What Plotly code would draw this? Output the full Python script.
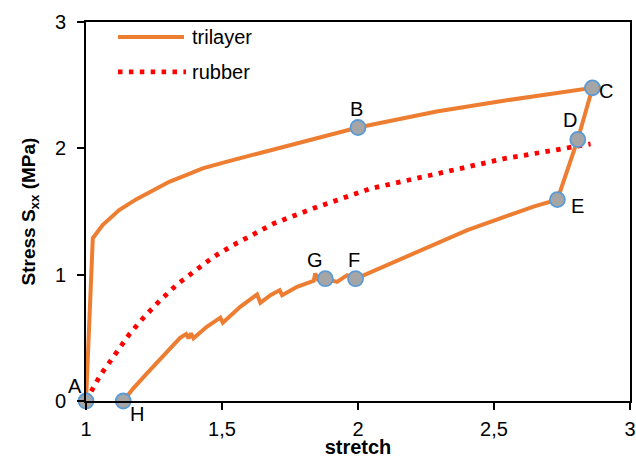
import plotly.graph_objects as go

# trilayer loading/unloading path A-B-C-D-E-F-G-H
tri_x = [1.000, 1.025, 1.061, 1.122, 1.184, 1.245, 1.306, 1.368, 1.429, 1.515, 1.592, 1.715, 1.837,
         2.000, 2.289, 2.530, 2.862,
         2.808, 2.733, 2.648, 2.402, 2.218, 2.095, 1.991, 1.960, 1.923, 1.880, 1.852, 1.843, 1.837,
         1.776, 1.721, 1.712, 1.678, 1.641, 1.629, 1.567, 1.503, 1.494, 1.444, 1.395, 1.386, 1.377,
         1.368, 1.346, 1.285, 1.224, 1.174, 1.137]
tri_y = [0.000, 1.288, 1.393, 1.511, 1.596, 1.669, 1.735, 1.788, 1.841, 1.893, 1.937, 2.010, 2.080,
         2.165, 2.291, 2.375, 2.479,
         2.070, 1.594, 1.541, 1.352, 1.180, 1.062, 0.968, 0.996, 0.943, 0.968, 0.962, 1.009, 0.951,
         0.904, 0.838, 0.877, 0.838, 0.777, 0.843, 0.746, 0.619, 0.660, 0.587, 0.496, 0.535, 0.496,
         0.530, 0.500, 0.364, 0.219, 0.100, 0.000]

# rubber curve
rub_x = [1.000, 1.017, 1.039, 1.062, 1.109, 1.160, 1.214, 1.273, 1.336, 1.402, 1.469, 1.543, 1.616,
         1.690, 1.850, 2.046, 2.292, 2.537, 2.734, 2.855]
rub_y = [0.000, 0.074, 0.153, 0.232, 0.382, 0.530, 0.666, 0.798, 0.925, 1.036, 1.141, 1.236, 1.323,
         1.405, 1.536, 1.681, 1.800, 1.918, 1.990, 2.035]

# labelled points
pt_names = ["A", "B", "C", "D", "E", "F", "G", "H"]
pt_x = [1.000, 2.000, 2.862, 2.808, 2.733, 1.991, 1.880, 1.137]
pt_y = [0.000, 2.165, 2.479, 2.070, 1.594, 0.968, 0.968, 0.000]
# label offsets (pixels)
pt_dx = [-11, -2, 14, -8, 20, -2, -10, 14]
pt_dy = [15, 18, -3, 19, -6, 19, 19, -13]

x_ticks = [1, 1.5, 2, 2.5, 3]
x_tick_text = ["1", "1,5", "2", "2,5", "3"]
y_ticks = [0, 1, 2, 3]
y_tick_text = ["0", "1", "2", "3"]

ORANGE = "#ED7D31"
RED = "#FF0000"
FONT = "Arial, 'Liberation Sans', sans-serif"

fig = go.Figure()
fig.add_trace(go.Scatter(x=rub_x, y=rub_y, mode="lines", name="rubber",
                         line=dict(color=RED, width=4.8, dash="4.5px,6.4px"), showlegend=False))
fig.add_trace(go.Scatter(x=tri_x, y=tri_y, mode="lines", name="trilayer",
                         line=dict(color=ORANGE, width=4), showlegend=False))
fig.add_trace(go.Scatter(x=pt_x, y=pt_y, mode="markers", showlegend=False, cliponaxis=False,
                         marker=dict(size=15, color="#A5A5A5", line=dict(color="#5B9BD5", width=1.8))))

for n, x, y, dx, dy in zip(pt_names, pt_x, pt_y, pt_dx, pt_dy):
    fig.add_annotation(x=x, y=y, text=n, showarrow=False, xshift=dx, yshift=dy,
                       font=dict(family=FONT, size=20, color="black"))

W, H = 636, 458
L, R, T, B = 86, 630, 22, 401.5
def px(v):
    return (v - L) / (R - L)
def py(v):
    return (B - v) / (B - T)

# legend drawn as decoration
fig.add_shape(type="line", xref="paper", yref="paper", x0=px(118), x1=px(184), y0=py(37), y1=py(37),
              line=dict(color=ORANGE, width=4))
fig.add_shape(type="line", xref="paper", yref="paper", x0=px(118), x1=px(186), y0=py(72), y1=py(72),
              line=dict(color=RED, width=4.8, dash="4.5px,6.4px"))
fig.add_annotation(xref="paper", yref="paper", x=px(190), y=py(37), text="trilayer", showarrow=False,
                   xanchor="left", yanchor="middle", font=dict(family=FONT, size=20, color="black"))
fig.add_annotation(xref="paper", yref="paper", x=px(190), y=py(72), text="rubber", showarrow=False,
                   xanchor="left", yanchor="middle", font=dict(family=FONT, size=20, color="black"))

axis_common = dict(showline=True, linecolor="black", linewidth=2, mirror=True, ticks="outside",
                   ticklen=7, tickwidth=2, tickcolor="black", showgrid=False, zeroline=False,
                   automargin=False, tickfont=dict(family=FONT, size=20, color="black"))

fig.update_layout(
    width=W, height=H,
    margin=dict(l=L, r=W - R, t=T, b=H - B),
    plot_bgcolor="white", paper_bgcolor="white",
    font=dict(family=FONT, color="black"),
    xaxis=dict(range=[1, 3], tickvals=x_ticks, ticktext=x_tick_text, ticklabelstandoff=2,
               title=dict(text="<b>stretch</b>", font=dict(family=FONT, size=20), standoff=2),
               **axis_common),
    yaxis=dict(range=[0, 3], tickvals=y_ticks, ticktext=y_tick_text, ticklabelstandoff=7,
               title=dict(text="<b>Stress S<sub>xx</sub> (MPa)</b>", font=dict(family=FONT, size=19), standoff=14),
               **axis_common),
)

fig.write_html(
    "out.html",
    config={"displayModeBar": False},
    post_script="document.body.style.margin='0';document.documentElement.style.overflow='hidden';document.body.style.overflow='hidden';",
)
